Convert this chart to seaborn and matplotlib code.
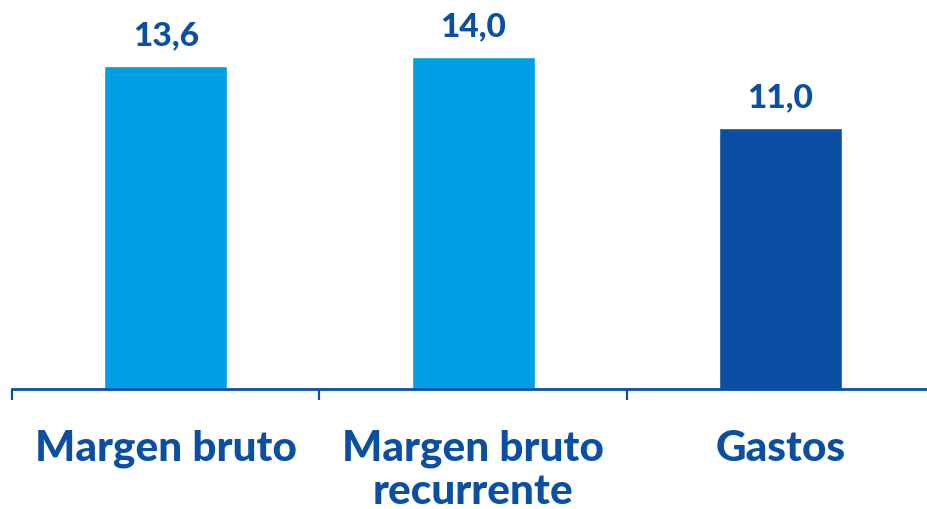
import matplotlib
matplotlib.use("Agg")
import matplotlib.pyplot as plt
import seaborn as sns
import pandas as pd

categories = ["Margen bruto", "Margen bruto\nrecurrente", "Gastos"]
values = [13.6, 14.0, 11.0]
value_labels = ["13,6", "14,0", "11,0"]
bar_colors = ["#009fe3", "#009fe3", "#0a4fa3"]

text_color = "#0a4fa3"

sns.set_style("white")
plt.rcParams["font.family"] = ["Lato", "DejaVu Sans"]

df = pd.DataFrame({"cat": categories, "val": values})

fig = plt.figure(figsize=(9.27, 5.10), dpi=100)
ax = fig.add_axes([12 / 927, 1 - 389.5 / 510, 1 - 12 / 927, 389.5 / 510])

sns.barplot(data=df, x="cat", y="val", hue="cat", palette=bar_colors,
            width=0.4, legend=False, ax=ax, saturation=1)

# value labels above bars
for i, (v, lab) in enumerate(zip(values, value_labels)):
    ax.text(i, v + 0.72, lab, ha="center", va="bottom", fontsize=24,
            fontweight="black", color=text_color)

ax.set_xlim(-0.5, 2.477)
ax.set_ylim(0, 389.5 / 23.68)

for s in ["top", "right", "left"]:
    ax.spines[s].set_visible(False)
ax.spines["bottom"].set_color(text_color)
ax.spines["bottom"].set_linewidth(2)

ax.set_yticks([])
# separators between categories
ax.set_xticks([-0.5, 0.5, 1.5], minor=False)
ax.set_xticklabels([])
ax.tick_params(axis="x", which="major", length=8, width=1.6, color=text_color,
               direction="out", bottom=True)
ax.set_xticks([0, 1, 2], minor=True)
ax.set_xticklabels(categories, minor=True)
ax.tick_params(axis="x", which="minor", length=0, pad=29, labelsize=30.5,
               labelcolor=text_color)
for t in ax.get_xticklabels(minor=True):
    t.set_fontweight("black")
    t.set_verticalalignment("top")
    t.set_linespacing(1.15)

ax.set_xlabel("")
ax.set_ylabel("")

fig.savefig("out.png", dpi=100)
